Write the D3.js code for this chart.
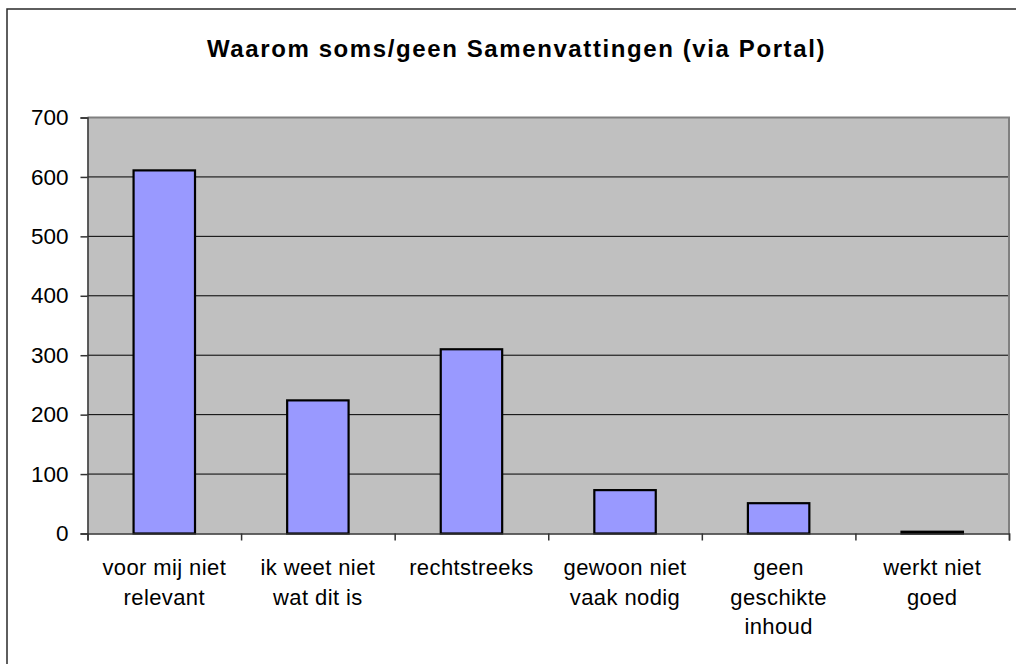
<!DOCTYPE html>
<html>
<head>
<meta charset="utf-8">
<script src="https://cdn.jsdelivr.net/npm/d3@7"></script>
<style>
  body { margin: 0; background: #fff; }
  text { font-family: "Liberation Sans", Arial, sans-serif; fill: #000; }
</style>
</head>
<body>
<div id="chart"></div>
<script>
/* Data */
var categories = ["voor mij niet relevant", "ik weet niet wat dit is", "rechtstreeks",
  "gewoon niet vaak nodig", "geen geschikte inhoud", "werkt niet goed"]
var categoryLines = [["voor mij niet", "relevant"], ["ik weet niet", "wat dit is"], ["rechtstreeks"],
  ["gewoon niet", "vaak nodig"], ["geen", "geschikte", "inhoud"], ["werkt niet", "goed"]]
var counts = [611, 224, 310, 73, 51, 3]
var yTicks = [0, 100, 200, 300, 400, 500, 600, 700]
var title = "Waarom soms/geen Samenvattingen (via Portal)"

/* Layout */
var width = 1016, height = 664
var plot = { left: 87.5, right: 1009, top: 117.5, bottom: 533.5 }

var svg = d3.select("#chart").append("svg")
  .attr("width", width)
  .attr("height", height)

// outer chart border (right and bottom fall outside the picture)
svg.append("rect")
  .attr("x", 7).attr("y", 9)
  .attr("width", 1040).attr("height", 700)
  .attr("fill", "none")
  .attr("stroke", "#2a2a2a")
  .attr("stroke-width", 1.5)

svg.append("text")
  .attr("x", 516.5).attr("y", 57)
  .attr("text-anchor", "middle")
  .style("font-size", "24px")
  .style("font-weight", "bold")
  .style("letter-spacing", "1.6px")
  .text(title)

var x = d3.scaleBand()
  .domain(categories)
  .range([plot.left, plot.right])
  .paddingInner(0.6)
  .paddingOuter(0.3)

var xBounds = d3.scaleLinear()
  .domain([0, categories.length])
  .range([plot.left, plot.right])

var y = d3.scaleLinear()
  .domain([0, 700])
  .range([plot.bottom, plot.top])

// plot background
svg.append("rect")
  .attr("x", plot.left).attr("y", plot.top)
  .attr("width", plot.right - plot.left)
  .attr("height", plot.bottom - plot.top)
  .attr("fill", "#c0c0c0")

// gridlines
svg.append("g")
  .selectAll("line")
  .data(yTicks.filter(d => d > 0 && d < 700))
  .enter().append("line")
  .attr("x1", plot.left).attr("x2", plot.right)
  .attr("y1", d => y(d)).attr("y2", d => y(d))
  .attr("stroke", "#000")
  .attr("stroke-width", 1)

// plot border (top and right)
svg.append("path")
  .attr("d", `M${plot.left},${plot.top}H${plot.right}V${plot.bottom}`)
  .attr("fill", "none")
  .attr("stroke", "#808080")
  .attr("stroke-width", 2)

// bars
svg.append("g")
  .selectAll("rect")
  .data(counts)
  .enter().append("rect")
  .attr("x", (d, i) => x(categories[i]))
  .attr("y", d => y(d))
  .attr("width", x.bandwidth())
  .attr("height", d => y(0) - y(d))
  .attr("fill", "#9999ff")
  .attr("stroke", "#000")
  .attr("stroke-width", 2.2)

// y axis
var yAxis = svg.append("g")
  .attr("transform", `translate(${plot.left},0)`)
  .call(d3.axisLeft(y).tickValues(yTicks).tickSize(7).tickPadding(12).tickFormat(d3.format("d")))
yAxis.select(".domain").attr("stroke", "#333").attr("stroke-width", 1.5)
yAxis.selectAll(".tick line").attr("stroke", "#333").attr("stroke-width", 1.5)
yAxis.selectAll(".tick text")
  .style("font-size", "22.5px")
  .style("font-family", "'Liberation Sans', Arial, sans-serif")
  .attr("fill", "#000")

// x axis: ticks sit on category boundaries
var xAxis = svg.append("g")
  .attr("transform", `translate(0,${plot.bottom})`)
  .call(d3.axisBottom(xBounds).tickValues(d3.range(categories.length + 1)).tickSize(7).tickFormat(""))
xAxis.select(".domain").attr("stroke", "#333").attr("stroke-width", 1.5)
xAxis.selectAll(".tick line").attr("stroke", "#333").attr("stroke-width", 1.5)

// category labels (wrapped as in the original)
var labels = svg.append("g")
  .selectAll("text")
  .data(categories)
  .enter().append("text")
  .attr("x", d => x(d) + x.bandwidth() / 2)
  .attr("y", 575)
  .attr("text-anchor", "middle")
  .style("font-size", "22px")
  .style("letter-spacing", "0.4px")

labels.selectAll("tspan")
  .data((d, i) => categoryLines[i])
  .enter().append("tspan")
  .attr("x", function () { return this.parentNode.getAttribute("x") })
  .attr("dy", (d, i) => i === 0 ? 0 : 29.5)
  .text(d => d)
</script>
</body>
</html>
